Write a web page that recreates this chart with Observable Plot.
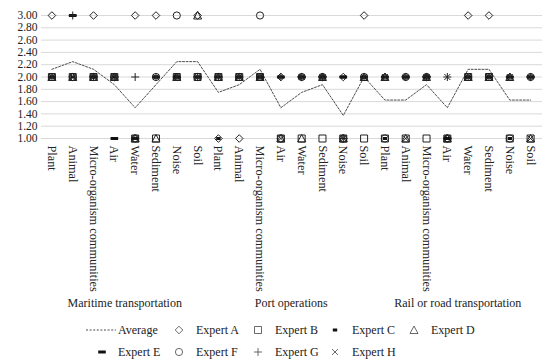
<!DOCTYPE html>
<html>
<head>
<meta charset="utf-8">
<script src="https://cdn.jsdelivr.net/npm/d3@7"></script>
<script src="https://cdn.jsdelivr.net/npm/@observablehq/plot@0.6"></script>
<style>
  html, body { margin: 0; padding: 0; background: #fff; }
  #chart { width: 550px; font-family: "Liberation Serif", "Times New Roman", "DejaVu Serif", serif; color: #222; }
  #chart svg { display: block; }
  #chart svg text { font-family: "Liberation Serif", "Times New Roman", "DejaVu Serif", serif; }
</style>
</head>
<body>
<div id="chart"></div>
<script>
// ---- data ----
const categories = ["Plant", "Animal", "Micro-organism communities", "Air", "Water", "Sediment", "Noise", "Soil"];
const groups = ["Maritime transportation", "Port operations", "Rail or road transportation"];
const yTicks = [1.00, 1.20, 1.40, 1.60, 1.80, 2.00, 2.20, 2.40, 2.60, 2.80, 3.00];

const average = [2.125, 2.25, 2.125, 1.875, 1.5, 1.875, 2.25, 2.25,
                 1.75, 1.875, 2.125, 1.5, 1.75, 1.875, 1.375, 2.0,
                 1.625, 1.625, 1.875, 1.5, 2.125, 2.125, 1.625, 1.625];
const expertA = [3, 2, 3, 2, 3, 3, 2, 3,  1, 1, 2, 2, 2, 2, 2, 3,  2, 2, 2, 1, 3, 3, 2, 2];
const expertB = [2, 2, 2, 2, 1, 1, 2, 2,  2, 2, 2, 1, 1, 1, 1, 1,  1, 1, 1, 1, 2, 2, 1, 1];
const expertC = [2, 2, 2, 2, 1, 2, 2, 2,  1, 2, 2, 2, 2, 2, 2, 2,  1, 2, 2, 1, 2, 2, 1, 2];
const expertD = [2, 2, 2, 2, 1, 1, 2, 3,  2, 2, 2, 1, 1, 2, 1, 2,  2, 1, 2, 1, 2, 2, 2, 1];
const expertE = [2, 3, 2, 1, 1, 2, 2, 2,  2, 2, 2, 2, 2, 2, 2, 2,  2, 2, 2, 1, 2, 2, 2, 2];
const expertF = [2, 2, 2, 2, 1, 2, 3, 2,  2, 2, 3, 1, 2, 2, 1, 2,  1, 2, 2, 1, 2, 2, 1, 2];
const expertG = [2, 3, 2, 2, 2, 2, 2, 2,  2, 2, 2, 2, 2, 2, 1, 2,  2, 2, 2, 2, 2, 2, 2, 2];
const expertH = [2, 2, 2, 2, 1, 2, 2, 2,  2, 2, 2, 1, 2, 2, 1, 2,  2, 1, 2, 2, 2, 2, 2, 1];

// ---- derived ----
const labels = groups.flatMap(() => categories);
const idx = d3.range(labels.length);

// marker shapes
const sym = {
  diamond:   {draw(c) { const h = 3.8; c.moveTo(0, -h); c.lineTo(h, 0); c.lineTo(0, h); c.lineTo(-h, 0); c.closePath(); }},
  square:    {draw(c) { c.rect(-3.5, -3.5, 7, 7); }},
  dashShort: {draw(c) { c.rect(-2.2, -1.5, 4.4, 3); }},
  triangle:  {draw(c) { c.moveTo(0, -4); c.lineTo(4, 3.5); c.lineTo(-4, 3.5); c.closePath(); }},
  dashLong:  {draw(c) { c.rect(-3.8, -1.5, 7.6, 3); }},
  circle:    {draw(c) { c.moveTo(3.6, 0); c.arc(0, 0, 3.6, 0, 2 * Math.PI); }},
  plus:      {draw(c) { c.moveTo(-4, 0); c.lineTo(4, 0); c.moveTo(0, -4); c.lineTo(0, 4); }},
  times:     {draw(c) { const h = 3; c.moveTo(-h, -h); c.lineTo(h, h); c.moveTo(-h, h); c.lineTo(h, -h); }}
};

const experts = [
  {name: "Expert A", values: expertA, symbol: sym.diamond,   fill: "none", stroke: "#222"},
  {name: "Expert B", values: expertB, symbol: sym.square,    fill: "none", stroke: "#222"},
  {name: "Expert C", values: expertC, symbol: sym.dashShort, fill: "#111", stroke: "none"},
  {name: "Expert D", values: expertD, symbol: sym.triangle,  fill: "none", stroke: "#222"},
  {name: "Expert E", values: expertE, symbol: sym.dashLong,  fill: "#111", stroke: "none"},
  {name: "Expert F", values: expertF, symbol: sym.circle,    fill: "none", stroke: "#222"},
  {name: "Expert G", values: expertG, symbol: sym.plus,      fill: "none", stroke: "#222"},
  {name: "Expert H", values: expertH, symbol: sym.times,     fill: "none", stroke: "#222"}
];

const font = "'Liberation Serif', 'Times New Roman', 'DejaVu Serif', serif";

const plot = Plot.plot({
  width: 550,
  height: 312,
  marginTop: 15,
  marginBottom: 174,
  marginLeft: 41,
  marginRight: 8,
  insetRight: 1.5,
  style: {fontFamily: font, fontSize: "12px", color: "#222", background: "white", overflow: "visible"},
  x: {domain: [-0.5, labels.length - 0.5], axis: null},
  y: {domain: [1, 3], axis: null},
  marks: [
    Plot.ruleY(yTicks, {stroke: "#d9d9d9", strokeWidth: 1}),
    Plot.axisY({ticks: yTicks, tickFormat: d => d.toFixed(2), tickSize: 0, tickPadding: 4, fontSize: 11.5, label: null}),
    Plot.text(idx, {
      x: i => i, text: i => labels[i], rotate: 90, textAnchor: "start", lineAnchor: "middle",
      frameAnchor: "bottom", dy: 7, fontSize: 12.3, fill: "#222"
    }),
    Plot.line(idx, {x: i => i, y: i => average[i], stroke: "#4d4d4d", strokeWidth: 1, strokeDasharray: "2,1.6"}),
    ...experts.map(e => Plot.dot(idx, {
      x: i => i, y: i => e.values[i], symbol: e.symbol, r: 4,
      fill: e.fill, stroke: e.stroke, strokeWidth: 1
    })),
    Plot.text(groups, {
      x: (d, i) => i * categories.length + (categories.length - 1) / 2,
      frameAnchor: "bottom", dy: 168, text: d => d, fontSize: 12, fill: "#222"
    })
  ]
});

const chart = document.getElementById("chart");
chart.appendChild(plot);

// ---- legend ----
const legendItems = [{name: "Average", line: true}, ...experts];
const lg = d3.select(chart).append("svg")
  .attr("width", 550).attr("height", 48)
  .style("font-family", font).style("font-size", "12px");
const colText = [118, 196, 275, 352, 431];
const rowY = [18, 40];
legendItems.forEach((it, k) => {
  const col = k % 5, row = Math.floor(k / 5);
  const tx = colText[col], y = rowY[row];
  const g = lg.append("g");
  if (it.line) {
    g.append("line").attr("x1", 86).attr("x2", 116).attr("y1", y).attr("y2", y)
      .attr("stroke", "#4d4d4d").attr("stroke-dasharray", "2,1.6");
  } else {
    const p = d3.path();
    it.symbol.draw(p);
    const mx = col === 0 ? 102 : tx - 17;
    g.append("path").attr("d", p.toString())
      .attr("transform", `translate(${mx},${y})`)
      .attr("fill", it.fill === "none" ? "none" : "#111")
      .attr("stroke", it.stroke === "none" ? "none" : "#444")
      .attr("stroke-width", 0.8);
  }
  g.append("text").attr("x", tx).attr("y", y).attr("dy", "0.35em")
    .attr("fill", "#222").text(it.name);
});
</script>
</body>
</html>
